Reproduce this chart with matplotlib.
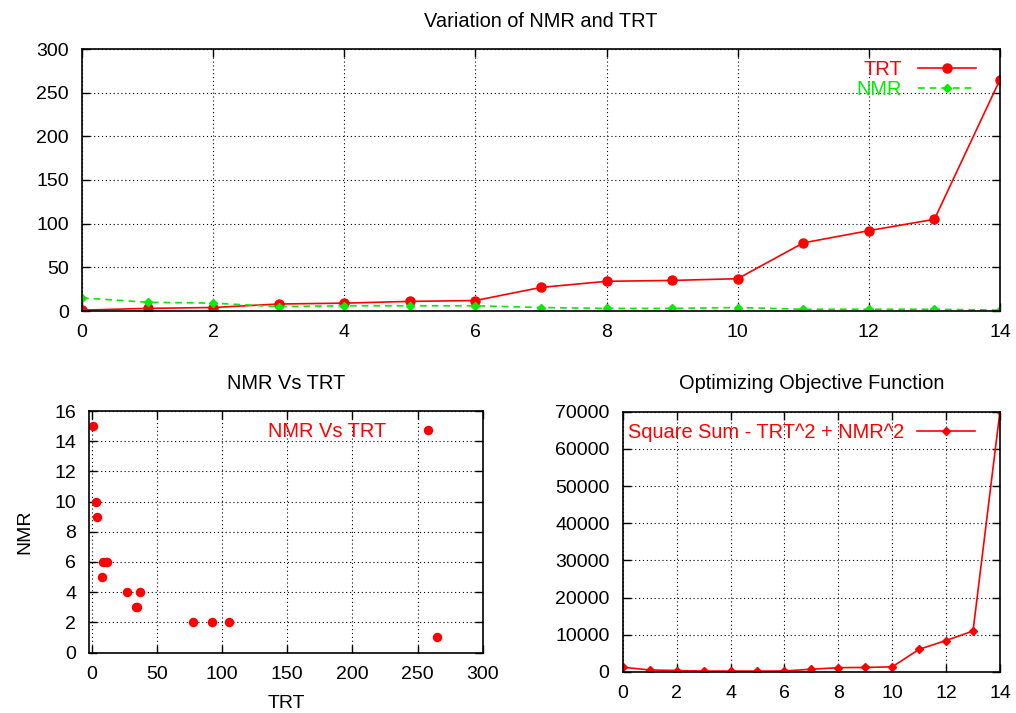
import matplotlib
matplotlib.use("Agg")
import matplotlib.pyplot as plt

plt.rcParams['font.family'] = ['Liberation Sans', 'DejaVu Sans']

# ---- data ----
steps = list(range(15))
trt = [1, 3, 4, 8, 9, 11, 12, 27, 34, 35, 37, 78, 92, 105, 265]
nmr = [15, 10, 9, 5, 6, 6, 6, 4, 3, 3, 4, 2, 2, 2, 1]
objective = [1270, 550, 400, 250, 250, 250, 270, 750, 1160, 1230, 1390, 6100, 8470, 11030, 70200]

top_yticks = [0, 50, 100, 150, 200, 250, 300]
step_ticks = [0, 2, 4, 6, 8, 10, 12, 14]
sc_xticks = [0, 50, 100, 150, 200, 250, 300]
sc_yticks = [0, 2, 4, 6, 8, 10, 12, 14, 16]
obj_yticks = [0, 10000, 20000, 30000, 40000, 50000, 60000, 70000]

RED = '#ff0000'
GREEN = '#00ee00'
W, H = 1016, 713
TICK_FS = 14
LEG_FS = 14.4
TITLE_FS = 14.4

fig = plt.figure(figsize=(W / 100, H / 100), dpi=100)


def px_axes(l, t, r, b):
    return fig.add_axes([l / W, 1 - b / H, (r - l) / W, (b - t) / H])


def style(ax):
    ax.grid(True, color='black', linestyle=(0, (1, 2.5)), linewidth=0.8)
    ax.set_axisbelow(True)
    ax.tick_params(direction='in', top=True, right=True, length=6, width=1,
                   labelsize=TICK_FS, pad=9.5, colors='black')
    for s in ax.spines.values():
        s.set_linewidth(1.2)


# ---- top ----
ax1 = px_axes(82, 49, 1000, 311)
ax1.plot(steps, trt, color=RED, marker='o', markersize=6.5, linewidth=1.2, label='TRT')
ax1.plot(steps, nmr, color=GREEN, marker='D', markersize=4.5, linewidth=1.2,
         linestyle=(0, (4, 3)), label='NMR')
ax1.set_xlim(0, 14)
ax1.set_ylim(0, 300)
ax1.set_xticks(step_ticks)
ax1.set_yticks(top_yticks)
style(ax1)
ax1.set_title('Variation of NMR and TRT', fontsize=TITLE_FS, pad=16)
ax1.legend(loc='upper right', bbox_to_anchor=((976 - 82) / 918, (311 - 60) / 262),
           borderaxespad=0, borderpad=0, frameon=False, markerfirst=False,
           labelcolor='linecolor', fontsize=LEG_FS, handlelength=2.9,
           handletextpad=0.8, labelspacing=0.05)

# ---- bottom left ----
ax2 = px_axes(89.3, 411, 482.7, 652.5)
ax2.plot(trt, nmr, linestyle='none', color=RED, marker='o', markersize=5.8, label='NMR Vs TRT')
ax2.set_xlim(-1.84, 300)
ax2.set_ylim(0, 16)
ax2.set_xticks(sc_xticks)
ax2.set_yticks(sc_yticks)
style(ax2)
ax2.set_title('NMR Vs TRT', fontsize=TITLE_FS, pad=16)
ax2.set_xlabel('TRT', fontsize=TICK_FS, labelpad=9)
ax2.set_ylabel('NMR', fontsize=TICK_FS, labelpad=15)
ax2.legend(loc='upper right', bbox_to_anchor=((454 - 89.3) / 393.4, (652.5 - 422) / 241.5),
           borderaxespad=0, borderpad=0, frameon=False, markerfirst=False,
           labelcolor=RED, fontsize=LEG_FS, handlelength=2.6, handletextpad=0.8)

# ---- bottom right ----
ax3 = px_axes(622.7, 411.7, 1000, 672)
ax3.plot(steps, objective, color=RED, marker='D', markersize=4.5, linewidth=1.2,
         label='Square Sum - TRT^2 + NMR^2')
ax3.set_xlim(0, 14)
ax3.set_ylim(0, 70000)
ax3.set_xticks(step_ticks)
ax3.set_yticks(obj_yticks)
style(ax3)
ax3.set_title('Optimizing Objective Function', fontsize=TITLE_FS, pad=16)
ax3.legend(loc='upper left', bbox_to_anchor=((628 - 622.7) / 377.3, (672 - 423) / 260.3),
           borderaxespad=0, borderpad=0, frameon=False, markerfirst=False,
           labelcolor=RED, fontsize=LEG_FS, handlelength=2.9, handletextpad=0.65)

fig.savefig('out.png', dpi=100)
